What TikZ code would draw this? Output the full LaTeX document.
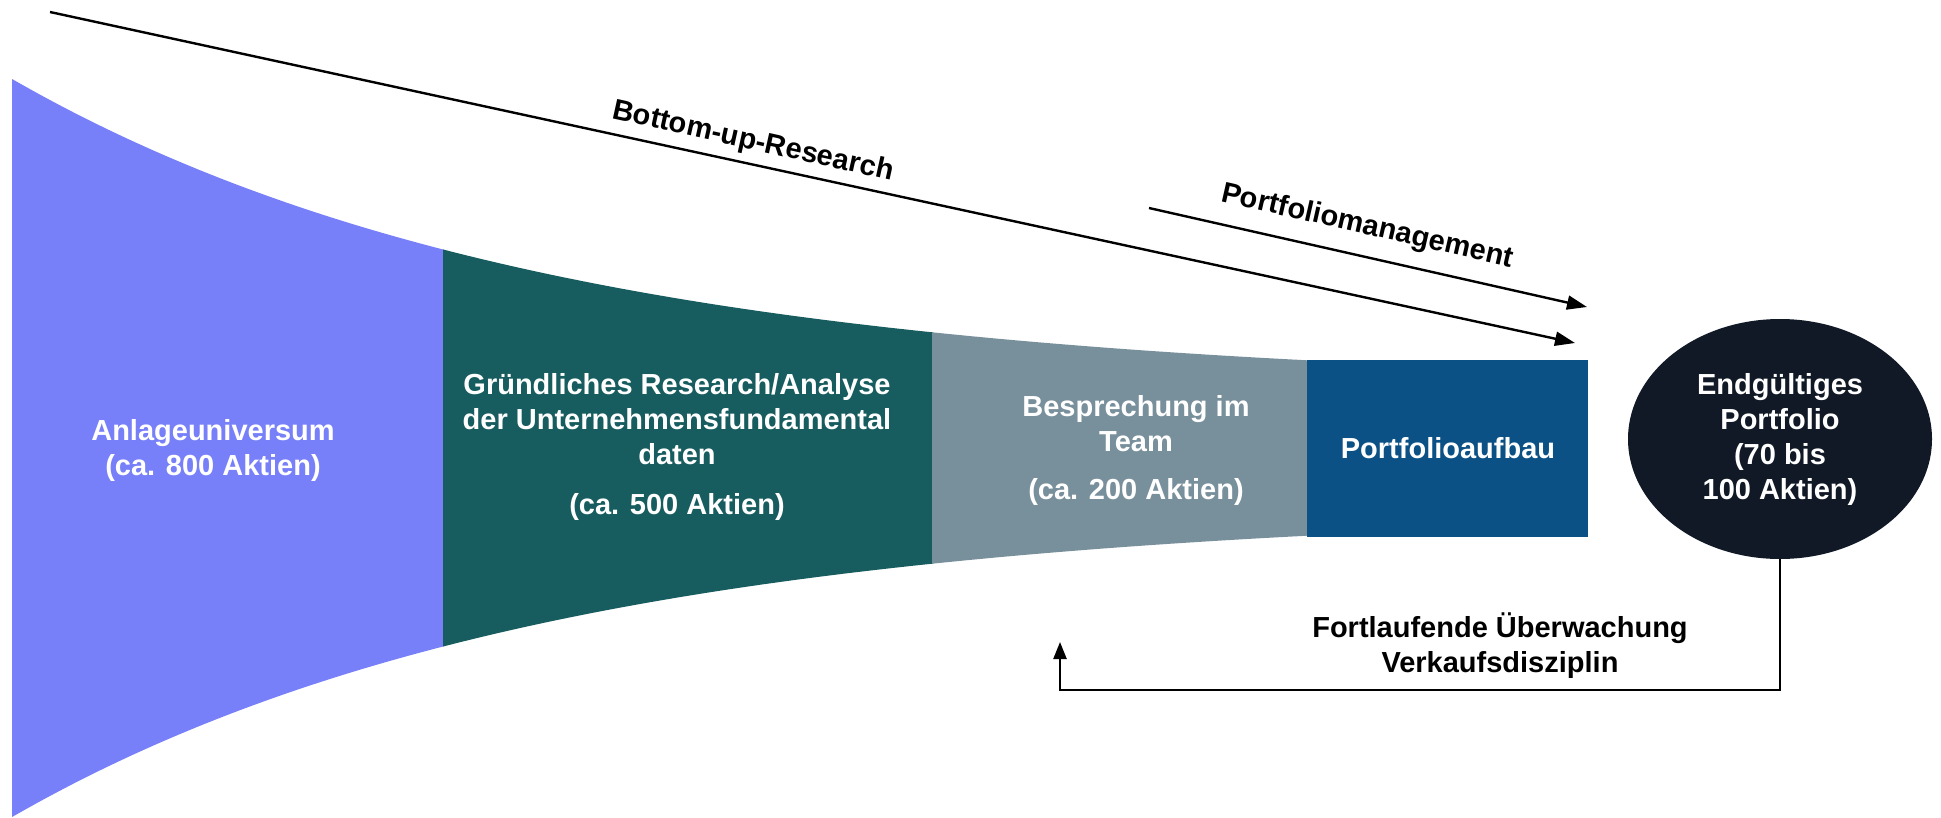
\documentclass[tikz,border=0pt]{standalone}
\usepackage{fontspec}
\setmainfont{Liberation Sans}
\usetikzlibrary{shapes.geometric,arrows.meta}

\definecolor{universe}{HTML}{7780F8}
\definecolor{research}{HTML}{175C5E}
\definecolor{teamtalk}{HTML}{788F9C}
\definecolor{build}{HTML}{0B5186}
\definecolor{finalfill}{HTML}{101925}

\begin{document}
\begin{tikzpicture}[x=1pt,y=-1pt,
  declare function={fh(\t)=60+309*exp(-0.00186*(\t-12));},
  lbl/.style={font=\bfseries\fontsize{29}{35}\selectfont, align=center, text=white, inner sep=0pt},
  note/.style={font=\bfseries\fontsize{29}{35}\selectfont, align=center, text=black, inner sep=0pt},
  flow/.style={line width=2.4pt, -{Triangle[length=20pt,width=14pt]}},
  back/.style={line width=2.4pt, -{Triangle[length=17pt,width=13pt]}},
]
\useasboundingbox (0,0) rectangle (1941,817);

% funnel stages (half height given by fh around the axis y = 448)
\fill[universe] plot[domain=12:444,samples=50] (\x,{448-fh(\x)})
  -- plot[domain=444:12,samples=50] (\x,{448+fh(\x)}) -- cycle;
\fill[research] plot[domain=443:933,samples=50] (\x,{448-fh(\x)})
  -- plot[domain=933:443,samples=50] (\x,{448+fh(\x)}) -- cycle;
\fill[teamtalk] plot[domain=932:1308,samples=40] (\x,{448-fh(\x)})
  -- plot[domain=1308:932,samples=40] (\x,{448+fh(\x)}) -- cycle;
\fill[build] (1307,360) rectangle (1588,537);

% stage captions
\node[lbl] (universelbl) at (213,450) {Anlageuniversum\\(ca. 800 Aktien)};
\node[lbl] (researchlbl) at (677,447) {Gründliches Research/Analyse\\der Unternehmensfundamental\\daten\\[15pt](ca. 500 Aktien)};
\node[lbl] (teamlbl) at (1136,450) {Besprechung im\\Team\\[13pt](ca. 200 Aktien)};
\node[lbl] (buildlbl) at (1448,448) {Portfolioaufbau};

% final portfolio
\node[ellipse, fill=finalfill, minimum width=304pt, minimum height=240pt, lbl] (final) at (1780,439)
  {Endgültiges\\Portfolio\\(70 bis\\100 Aktien)};

% process arrows
\coordinate (bu0) at (50,12);
\coordinate (bu1) at (1575,343);
\draw[flow] (bu0) -- (bu1);
\coordinate (pm0) at (1149,208);
\coordinate (pm1) at (1587,307);
\draw[flow] (pm0) -- (pm1);
\node[note, rotate=-12.5] (bulabel) at (753,142) {Bottom-up-Research};
\node[note, rotate=-12.8] (pmlabel) at (1367,227) {Portfoliomanagement};

% monitoring feedback loop
\coordinate (fbcorner) at (1060,690);
\coordinate (fbend) at (1060,642);
\draw[back] (final.south) |- (fbcorner) -- (fbend);
\node[note] (monitor) at (1500,646) {Fortlaufende Überwachung\\Verkaufsdisziplin};
\end{tikzpicture}
\end{document}
